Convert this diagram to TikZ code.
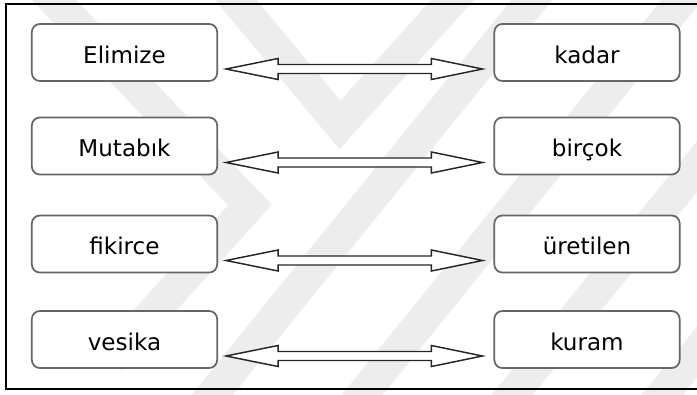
\documentclass[tikz,border=0pt]{standalone}
\usepackage{fontspec}
\setmainfont{DejaVu Sans}
\usetikzlibrary{calc}
\begin{document}
\begin{tikzpicture}[x=0.75pt,y=-0.75pt]
    \tikzstyle{word}=[draw=black!60, line width=1.3pt, fill=white, rounded corners=6pt,
      minimum width=139pt, minimum height=42.75pt, inner sep=0pt,
      text height=16pt, text depth=0.25pt,
      font=\fontsize{17.3}{20}\selectfont]
    \tikzstyle{twoway}=[draw=black!85, line width=1.1pt, fill=white, line join=miter]
    \tikzstyle{wmband}=[draw=black!7, line width=24pt, line join=miter]
    \clip (0,0) rectangle (697,394);
    \draw[wmband] (215,-25) -- (340,125) -- (475,-25);
    \draw[wmband] (30,-25) -- (250,205) -- (110,360);
    \foreach \s in {200,350,500,650}
      \draw[wmband] (\s,410) -- (\s+340,-10);
    \draw[line width=2pt] (6,4) rectangle (710,389);
    \node[word] (l1) at (124.5,52.5) {Elimize};
    \node[word] (l2) at (124.5,146) {Mutabık};
    \node[word] (l3) at (124.5,244) {fikirce};
    \node[word] (l4) at (124.5,339.5) {vesika};
    \node[word] (r1) at (587,52.5) {kadar};
    \node[word] (r2) at (587,146) {birçok};
    \node[word] (r3) at (587,244) {üretilen};
    \node[word] (r4) at (587,339.5) {kuram};
    \foreach \a/\b in {l1/r1,l2/r2,l3/r3,l4/r4}{
      \coordinate (tl) at ($(\a.east)+(8,16.5)$);
      \coordinate (tr) at ($(\b.west)+(-11,16.5)$);
      \draw[twoway] (tl) -- ($(tl)+(52,-10.5)$) -- ($(tl)+(52,-4.5)$)
        -- ($(tr)+(-51,-4.5)$) -- ($(tr)+(-51,-10.5)$) -- (tr)
        -- ($(tr)+(-51,10.5)$) -- ($(tr)+(-51,4.5)$)
        -- ($(tl)+(52,4.5)$) -- ($(tl)+(52,10.5)$) -- cycle;
    }
  \end{tikzpicture}
\end{document}
